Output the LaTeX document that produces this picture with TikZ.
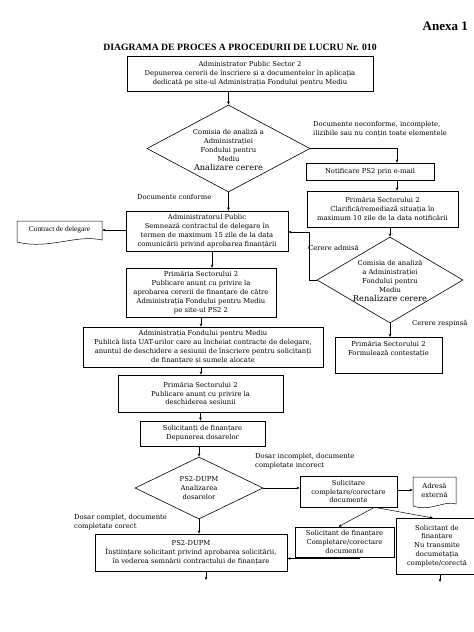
\documentclass[tikz,border=0pt]{standalone}
\usepackage{fontspec}
\setmainfont{DejaVu Serif}
\newfontfamily\tnr{Liberation Serif}
\usetikzlibrary{arrows.meta,shapes.geometric,calc}
\newcommand\bx{\fontsize{6.8}{8.9}\selectfont}
\newcommand\bxbig{\fontsize{8.2}{8.9}\selectfont}
\begin{document}
\begin{tikzpicture}[x=1pt,y=-1pt,
 box/.style={draw, line width=0.6pt, inner sep=0pt, align=center, font=\bx},
 lbl/.style={inner sep=0pt, align=left, font=\bx, anchor=north west},
 arr/.style={-{Stealth[length=3.2pt,width=2.6pt]}, line width=0.5pt},
 ln/.style={line width=0.5pt},
 dia/.style={draw, diamond, line width=0.6pt, inner sep=0pt},
 txt/.style={inner sep=0pt, align=center, font=\bx}]
\useasboundingbox (0,0) rectangle (474,632);
\fill[white] (0,0) rectangle (474,632);

\node[font=\tnr\bfseries\fontsize{13}{15}\selectfont, anchor=east, inner sep=0pt] (anexa) at (468,26) {Anexa 1};
\node[font=\tnr\bfseries\fontsize{9.7}{11}\selectfont, inner sep=0pt] (title) at (240,47) {DIAGRAMA DE PROCES A PROCEDURII DE LUCRU Nr. 010};

% main column
\node[box, minimum width=246, minimum height=35] (b1) at (250,73.5) {Administrator Public Sector 2\\Depunerea cererii de înscriere și a documentelor în aplicația\\dedicată pe site-ul Administrația Fondului pentru Mediu};

\node[dia, minimum width=163, minimum height=87] (d1) at (228.5,148.5) {};
\node[txt] (d1t) at (228.5,150) {Comisia de analiză a\\Administrației\\Fondului pentru\\Mediu\\{\bxbig Analizare cerere}};

\node[lbl] (lconf) at (137,194) {Documente conforme};

\node[box, minimum width=162, minimum height=40] (ap) at (207,231) {Administratorul Public\\Semnează contractul de delegare în\\termen de maximum 15 zile de la data\\comunicării privind aprobarea finanțării};

\node[inner sep=0pt, font=\tnr\fontsize{7.4}{8}\selectfont, minimum width=85, minimum height=21] (cd) at (59.5,230) {Contract de delegare};
\draw[ln] (17,221) -- (102,221) -- (102,240) .. controls (75,234) and (50,250) .. (17,242) -- cycle;

\node[box, minimum width=150, minimum height=49] (p1) at (201,292.5) {Primăria Sectorului 2\\Publicare anunț cu privire la\\aprobarea cererii de finanțare de către\\Administrația Fondului pentru Mediu\\pe site-ul PS2 2};

\node[box, minimum width=240, minimum height=40] (afm) at (203,347) {Administrația Fondului pentru Mediu\\Publică lista UAT-urilor care au încheiat contracte de delegare,\\anunțul de deschidere a sesiunii de înscriere pentru solicitanți\\de finanțare și sumele alocate};

\node[box, minimum width=165, minimum height=37] (p2) at (200.5,393.5) {Primăria Sectorului 2\\Publicare anunț cu privire la\\deschiderea sesiunii};

\node[box, minimum width=125, minimum height=25] (sol) at (202.5,433.5) {Solicitanți de finanțare\\Depunerea dosarelor};

\node[dia, minimum width=128, minimum height=62] (d2) at (199,488) {};
\node[txt] (d2t) at (199,488) {PS2-DUPM\\Analizarea\\dosarelor};

\node[lbl] (linc) at (255,453) {Dosar incomplet, documente\\completate incorect};

\node[box, minimum width=97, minimum height=31] (scd) at (348.5,491.5) {Solicitare\\completare/corectare\\documente};

\node[inner sep=0pt, align=center, font=\bx, minimum width=43, minimum height=28] (adr) at (434.5,490) {Adresă\\externă};
\draw[ln] (413,477) -- (456,477) -- (456,504) .. controls (445,500) and (430,512) .. (413,506) -- cycle;

\node[box, minimum width=99, minimum height=30] (scomp) at (344.5,542) {Solicitant de finanțare\\Completare/corectare\\documente};

\node[txt] (nt) at (437,546) {Solicitant de\\finanțare\\Nu transmite\\documetația\\complete/corectă};
\draw[line width=0.6pt] (474,518) -- (396,518) -- (396,574) -- (474,574);
\coordinate (ntn) at (433,518);
\coordinate (nts) at (440,574);
\coordinate (ntout) at (440,582);

\node[lbl] (lcomp) at (74,514) {Dosar complet, documente\\completate corect};

\node[box, minimum width=192, minimum height=37] (dupm) at (191,552.5) {PS2-DUPM\\Înștiințare solicitant privind aprobarea solicitării,\\în vederea semnării contractului de finanțare};
\coordinate (dupmout) at (206,580);

% right column
\node[lbl] (lnec) at (313,121) {Documente neconforme, incomplete,\\ilizibile sau nu conțin toate elementele};
\node[box, minimum width=128, minimum height=17] (notif) at (370,171.5) {Notificare PS2 prin e-mail};
\node[box, minimum width=151, minimum height=36] (clar) at (382.5,209) {Primăria Sectorului 2\\Clarifică/remediază situația în\\maximum 10 zile de la data notificării};
\node[dia, minimum width=146, minimum height=86] (d3) at (390,280) {};
\node[txt] (d3t) at (390,281) {Comisia de analiză\\a Administrației\\Fondului pentru\\Mediu\\{\bxbig Renalizare cerere}};
\node[lbl] (ladm) at (308,245) {Cerere admisă};
\node[lbl] (lresp) at (412,320) {Cerere respinsă};
\node[box, minimum width=107, minimum height=36, anchor=north] (cont) at (388.5,337) {};
\node[txt, anchor=north] (contt) at (388.5,341) {Primăria Sectorului 2\\Formulează contestație};

% connectors
\draw[arr] (b1.south -| d1.north) -- (d1.north);
\draw[arr] (d1.south) -- (ap.north -| d1.south);
\draw[arr] (ap.west |- cd.east) -- (cd.east);
\draw[arr] ([xshift=5pt]ap.south) -- ([xshift=5pt]p1.north -| ap.south);
\draw[arr] (p1.south) -- (afm.north -| p1.south);
\draw[arr] (p1.south |- afm.south) -- (p2.north -| p1.south);
\draw[arr] (p2.south) -- (sol.north -| p2.south);
\draw[arr] (sol.south -| d2.north) -- (d2.north);
\draw[arr] (d2.east) -- (scd.west |- d2.east);
\draw[arr] (scd.east |- adr.west) -- (adr.west);
\draw[arr] ([xshift=26pt]scd.south) -- ([xshift=-6pt]scomp.north);
\draw[arr] ([xshift=26pt]scd.south) -- (ntn);
\draw[arr] ([xshift=15pt]scomp.south) |- ([yshift=-6pt]dupm.east);
\draw[arr] (d2.south) -- (dupm.north -| d2.south);
\draw[arr] ([xshift=15pt]dupm.south) -- (dupmout);
\draw[arr] (nts) -- (ntout);

\draw[arr] (d1.east) -| ([xshift=27pt]notif.north);
\draw[arr] ([xshift=27pt]notif.south) -- ([xshift=27pt]notif.south |- clar.north);
\draw[arr] (clar.south -| d3.north) -- (d3.north);
\draw[arr] (d3.west) -- ++(-7,0) |- ([yshift=-1pt]ap.east);
\draw[arr] (d3.south) -- (cont.north -| d3.south);
\end{tikzpicture}
\end{document}
